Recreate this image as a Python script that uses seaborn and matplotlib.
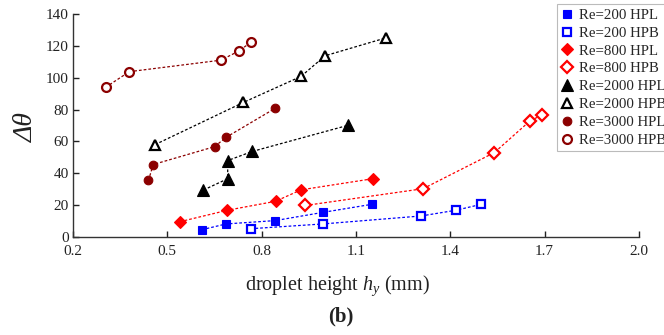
import matplotlib
matplotlib.use("Agg")
import matplotlib.pyplot as plt
import seaborn as sns
import pandas as pd
from matplotlib.lines import Line2D

sns.set_style("ticks")
plt.rcParams['font.family'] = ['Liberation Serif', 'DejaVu Serif']
plt.rcParams['mathtext.fontset'] = 'custom'
plt.rcParams['mathtext.it'] = 'Liberation Serif:italic'
plt.rcParams['mathtext.rm'] = 'Liberation Serif'

# ---- data ----
labels = ["Re=200 HPL", "Re=200 HPB", "Re=800 HPL", "Re=800 HPB",
          "Re=2000 HPL", "Re=2000 HPB", "Re=3000 HPL", "Re=3000 HPB"]

re200_hpl_x = [0.610, 0.687, 0.843, 0.996, 1.150]
re200_hpl_y = [4.6, 8.2, 10.3, 15.5, 20.5]

re200_hpb_x = [0.765, 0.995, 1.307, 1.418, 1.498]
re200_hpb_y = [5.2, 8.2, 13.2, 16.8, 20.5]

re800_hpl_x = [0.540, 0.691, 0.844, 0.925, 1.154]
re800_hpl_y = [9.6, 16.8, 22.4, 29.6, 36.6]

re800_hpb_x = [0.939, 1.313, 1.540, 1.654, 1.692]
re800_hpb_y = [19.8, 30.3, 53.0, 73.0, 76.6]

re2000_hpl_x = [0.615, 0.692, 0.692, 0.770, 1.076]
re2000_hpl_y = [29.5, 36.6, 48.0, 53.7, 70.2]

re2000_hpb_x = [0.461, 0.742, 0.925, 1.002, 1.195]
re2000_hpb_y = [58.0, 84.5, 100.8, 113.8, 125.0]

re3000_hpl_x = [0.440, 0.455, 0.650, 0.687, 0.843]
re3000_hpl_y = [35.5, 45.5, 56.7, 62.6, 80.8]

re3000_hpb_x = [0.304, 0.379, 0.670, 0.728, 0.765]
re3000_hpb_y = [94.0, 103.8, 111.0, 116.8, 122.2]

xs = [re200_hpl_x, re200_hpb_x, re800_hpl_x, re800_hpb_x,
      re2000_hpl_x, re2000_hpb_x, re3000_hpl_x, re3000_hpb_x]
ys = [re200_hpl_y, re200_hpb_y, re800_hpl_y, re800_hpb_y,
      re2000_hpl_y, re2000_hpb_y, re3000_hpl_y, re3000_hpb_y]

x_ticks = [0.2, 0.5, 0.8, 1.1, 1.4, 1.7, 2.0]
y_ticks = [0, 20, 40, 60, 80, 100, 120, 140]

# ---- styles ----
colors = ["#0000ff", "#0000ff", "#ff0000", "#ff0000",
          "#000000", "#000000", "#8b0000", "#8b0000"]
markers = ["s", "s", "D", "D", "^", "^", "o", "o"]
filled = [True, False, True, False, True, False, True, False]
msizes = [6.0, 5.4, 6.2, 6.0, 8.0, 7.4, 6.2, 6.4]

fig = plt.figure(figsize=(6.64, 3.35), dpi=100)
ax = fig.add_axes([73/664, 1-237/335, (639-73)/664, (237-14)/335])

handles = []
for lab, x, y, c, m, f, ms in zip(labels, xs, ys, colors, markers, filled, msizes):
    df = pd.DataFrame({"x": x, "y": y})
    sns.lineplot(data=df, x="x", y="y", ax=ax, estimator=None, sort=False,
                 color=c, linestyle=(0, (2.2, 1.6)), linewidth=0.9,
                 marker=m, markersize=ms,
                 markerfacecolor=(c if f else "white"),
                 markeredgecolor=c, markeredgewidth=(0.8 if f else 1.6))
    handles.append(Line2D([], [], linestyle="none", marker=m, markersize=ms,
                          markerfacecolor=(c if f else "white"),
                          markeredgecolor=c, markeredgewidth=(0.8 if f else 1.6),
                          label=lab))

ax.set_xlim(0.2, 2.0)
ax.set_ylim(0, 140)
ax.set_xticks(x_ticks)
ax.set_xticklabels([f"{v:.1f}" for v in x_ticks])
ax.set_yticks(y_ticks)
ax.set_yticklabels([str(v) for v in y_ticks])
ax.tick_params(direction="in", length=4, width=1, labelsize=11, colors="#222222",
               labelcolor="#222222")
ax.tick_params(axis="x", pad=5.5)
ax.tick_params(axis="y", pad=3)
for s in ["top", "right"]:
    ax.spines[s].set_visible(False)
for s in ["left", "bottom"]:
    ax.spines[s].set_linewidth(1.0)
    ax.spines[s].set_color("#333333")

ax.set_xlabel(r"droplet height $h_y$ (mm)", fontsize=14.5, color="#222222")
ax.xaxis.label.set_va("center")
ax.xaxis.set_label_coords((337-73)/566, (237-286)/223)
ax.set_ylabel("Δθ", fontsize=20, fontstyle="italic", color="#222222")
ax.yaxis.label.set_va("center")
ax.yaxis.set_label_coords((26-73)/566, (237-127)/223)

leg = fig.legend(handles=handles, loc="upper left",
                 bbox_to_anchor=(557/664, 1-4/335), fontsize=10.7,
                 frameon=True, fancybox=False, borderpad=0.3,
                 labelspacing=0.3, handlelength=0.8, handletextpad=0.4,
                 borderaxespad=0)
leg.get_frame().set_edgecolor("#aaaaaa")
leg.get_frame().set_linewidth(0.8)

fig.text(341/664, 1-316/335, "(b)", fontsize=15, fontweight="bold",
         ha="center", va="center", color="#222222")

fig.savefig("out.png", dpi=100)
